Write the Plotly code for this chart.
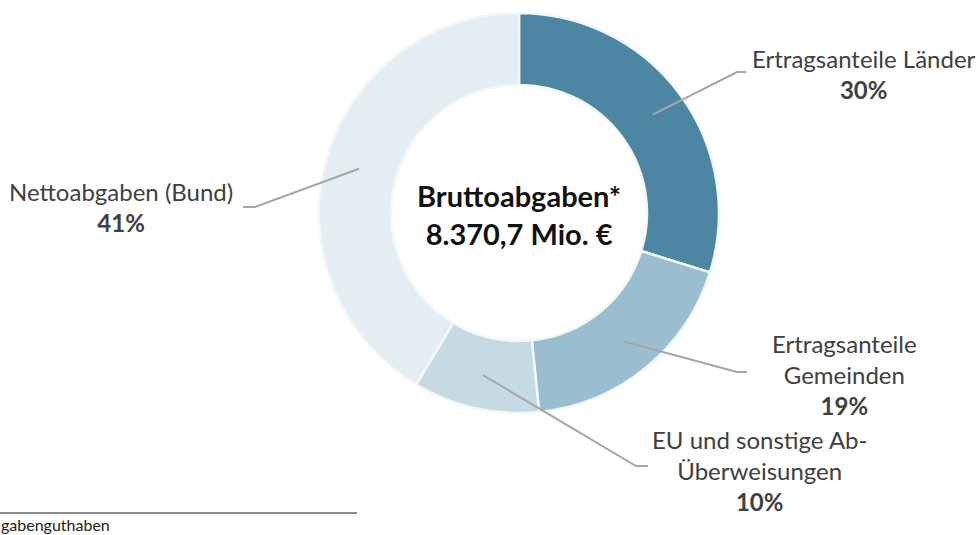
import math
import plotly.graph_objects as go

labels = ["Ertragsanteile Länder", "Ertragsanteile Gemeinden",
          "EU und sonstige Ab-Überweisungen", "Nettoabgaben (Bund)"]
label_text = ["Ertragsanteile Länder", "Ertragsanteile<br>Gemeinden",
              "EU und sonstige Ab-<br>Überweisungen", "Nettoabgaben (Bund)"]
values = [29.8, 18.6, 10.2, 41.4]
colors = ["#4C86A2", "#9ABDCF", "#C6DAE3", "#E4EDF2"]
center_title = "Bruttoabgaben*"
center_value = "8.370,7 Mio. €"
footnote = "gabenguthaben"

W, H = 978, 535
cx, cy, R = 519, 213, 200

fig = go.Figure(go.Pie(
    labels=labels, values=values, sort=False, direction="clockwise", rotation=0,
    hole=0.64, textinfo="none", hoverinfo="label+percent",
    marker=dict(colors=colors, line=dict(color="#F2F7F9", width=2.5)),
    domain=dict(x=[(cx - R) / W, (cx + R) / W], y=[1 - (cy + R) / H, 1 - (cy - R) / H]),
    showlegend=False,
))

# label positions (px): text block center, leader elbow and end
label_pos = [
    dict(tx=864, ty=74, ex=737, ey=72, hx=746),
    dict(tx=844, ty=374, ex=737, ey=372, hx=747),
    dict(tx=759, ty=470, ex=636, ey=466, hx=648),
    dict(tx=121, ty=207, ex=255, ey=207, hx=243),
]

total = sum(values)
cum = 0
shapes = []
annotations = []
for i, v in enumerate(values):
    mid = (cum + v / 2) / total * 2 * math.pi
    cum += v
    sx = cx + 0.83 * R * math.sin(mid)
    sy = cy - 0.83 * R * math.cos(mid)
    p = label_pos[i]
    path = f"M {sx/W},{1-sy/H} L {p['ex']/W},{1-p['ey']/H} L {p['hx']/W},{1-p['ey']/H}"
    shapes.append(dict(type="path", xref="paper", yref="paper", path=path,
                       line=dict(color="#A6A6A6", width=2)))
    pct = round(v / total * 100)
    annotations.append(dict(
        x=p["tx"] / W, y=1 - p["ty"] / H, xref="paper", yref="paper",
        xanchor="center", yanchor="middle", showarrow=False, align="center",
        text=f"{label_text[i]}<br><b>{pct}%</b>",
        font=dict(family="Lato", size=24, color="#404040"),
    ))

annotations.append(dict(
    x=cx / W, y=1 - 215 / H, xref="paper", yref="paper", xanchor="center", yanchor="middle",
    showarrow=False, align="center",
    text=f"<b>{center_title}<br>{center_value}</b>",
    font=dict(family="Lato", size=29, color="#111111"),
))
annotations.append(dict(
    x=0, y=0, xref="paper", yref="paper", xanchor="left", yanchor="bottom",
    showarrow=False, text=footnote, font=dict(family="Lato", size=16, color="#222222"),
    borderpad=0,
))
shapes.append(dict(type="line", xref="paper", yref="paper", x0=0, x1=357 / W,
                   y0=1 - 513 / H, y1=1 - 513 / H, line=dict(color="#8C8C8C", width=2)))

fig.update_layout(width=W, height=H, margin=dict(l=0, r=0, t=0, b=0),
                  paper_bgcolor="white", plot_bgcolor="white",
                  shapes=shapes, annotations=annotations)
fig.write_html("out.html", config={"displayModeBar": False},
               post_script="document.body.style.margin='0px';")
